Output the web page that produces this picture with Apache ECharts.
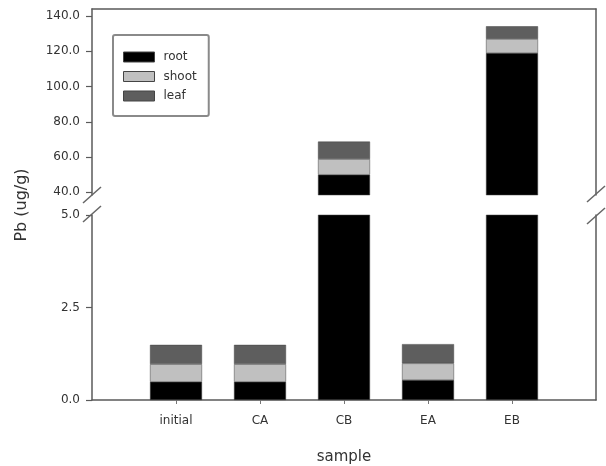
<!DOCTYPE html>
<html>
<head>
<meta charset="utf-8">
<script src="https://cdn.jsdelivr.net/npm/echarts@6/dist/echarts.min.js"></script>
<style>html,body{margin:0;padding:0;background:#fff}#c{width:606px;height:466px}</style>
</head>
<body>
<div id="c"></div>
<script>
const categories = ['initial', 'CA', 'CB', 'EA', 'EB'];
const rootVals = [0.49, 0.49, 50, 0.54, 119];
const shootVals = [0.48, 0.48, 8.9, 0.45, 8];
const leafVals = [0.52, 0.52, 9.9, 0.52, 7.2];
const upperTicks = [40, 60, 80, 100, 120, 140];
const lowerTicks = [0, 2.5, 5];
const seriesNames = ['root', 'shoot', 'leaf'];
const seriesColors = ['#000000', '#c0c0c0', '#5e5e5e'];

const padded = [''].concat(categories, ['']);
const pad = arr => ['-'].concat(arr, ['-']);
const allVals = [rootVals, shootVals, leafVals];

const FONT = 'DejaVu Sans';
const axisLineStyle = { color: '#5a5a5a', width: 1.5 };
const chart = echarts.init(document.getElementById('c'));

const series = [];
[0, 1].forEach(g => {
  allVals.forEach((vals, i) => {
    series.push({
      type: 'bar', name: seriesNames[i], stack: 's' + g,
      xAxisIndex: g, yAxisIndex: g * 2,
      data: pad(vals), barWidth: 52,
      itemStyle: { color: seriesColors[i], borderColor: '#444', borderWidth: 0.5 },
      clip: true, silent: true, animation: false
    });
  });
});

function slash(cx, cy) {
  return { type: 'line', shape: { x1: cx - 9, y1: cy + 8, x2: cx + 9, y2: cy - 8 },
    style: { stroke: '#666', lineWidth: 1.5 }, z: 100 };
}

chart.setOption({
  animation: false,
  textStyle: { fontFamily: FONT },
  grid: [
    { left: 92, right: 10, top: 9, height: 186, outerBoundsMode: 'none', containLabel: false },
    { left: 92, right: 10, top: 215, height: 185, outerBoundsMode: 'none', containLabel: false }
  ],
  xAxis: [
    { gridIndex: 0, type: 'category', data: padded, boundaryGap: false, position: 'top',
      axisLine: { lineStyle: axisLineStyle }, axisTick: { show: false }, axisLabel: { show: false } },
    { gridIndex: 1, type: 'category', data: padded, boundaryGap: false, position: 'bottom',
      axisLine: { lineStyle: axisLineStyle },
      axisTick: { show: true, length: 4, interval: (i, v) => v !== '', lineStyle: { color: '#777' } },
      axisLabel: { interval: 0, margin: 15, fontSize: 12, color: '#333', fontFamily: FONT },
      name: 'sample', nameLocation: 'middle', nameGap: 50,
      nameTextStyle: { fontSize: 15, color: '#333', fontFamily: FONT } }
  ],
  yAxis: [
    { gridIndex: 0, type: 'value', min: 38.5, max: 144, position: 'left',
      axisLine: { show: true, lineStyle: axisLineStyle },
      axisTick: { show: true, length: 6, customValues: upperTicks, lineStyle: { color: '#5a5a5a', width: 1.2 } },
      axisLabel: { customValues: upperTicks, formatter: v => v.toFixed(1), margin: 12, fontSize: 12, color: '#333', fontFamily: FONT },
      splitLine: { show: false } },
    { gridIndex: 0, type: 'value', min: 38.5, max: 144, position: 'right',
      axisLine: { show: true, lineStyle: axisLineStyle }, axisTick: { show: false }, axisLabel: { show: false },
      splitLine: { show: false } },
    { gridIndex: 1, type: 'value', min: 0, max: 5, interval: 2.5, position: 'left',
      axisLine: { show: true, lineStyle: axisLineStyle },
      axisTick: { show: true, length: 6, lineStyle: { color: '#5a5a5a', width: 1.2 } },
      axisLabel: { formatter: v => v.toFixed(1), margin: 12, fontSize: 12, color: '#333', fontFamily: FONT },
      splitLine: { show: false } },
    { gridIndex: 1, type: 'value', min: 0, max: 5, interval: 2.5, position: 'right',
      axisLine: { show: true, lineStyle: axisLineStyle }, axisTick: { show: false }, axisLabel: { show: false },
      splitLine: { show: false } }
  ],
  legend: {
    data: seriesNames, orient: 'vertical', left: 113, top: 35,
    itemWidth: 31, itemHeight: 10, itemGap: 5.5, icon: 'rect',
    padding: [15, 12, 13, 10], borderColor: '#8a8a8a', borderWidth: 2, borderRadius: 2,
    itemStyle: { borderColor: '#444', borderWidth: 1 },
    textStyle: { fontSize: 12, lineHeight: 14, color: '#333', fontFamily: FONT, padding: [0, 0, 0, 4] },
    selectedMode: false
  },
  graphic: [
    slash(92, 195), slash(92, 214), slash(596, 194), slash(596, 216),
    { type: 'text', x: 22, y: 205, rotation: Math.PI / 2, z: 100,
      style: { text: 'Pb (ug/g)', fontSize: 16, fontFamily: FONT, fill: '#333', align: 'center', verticalAlign: 'middle' } }
  ],
  series: series
});
</script>
</body>
</html>
